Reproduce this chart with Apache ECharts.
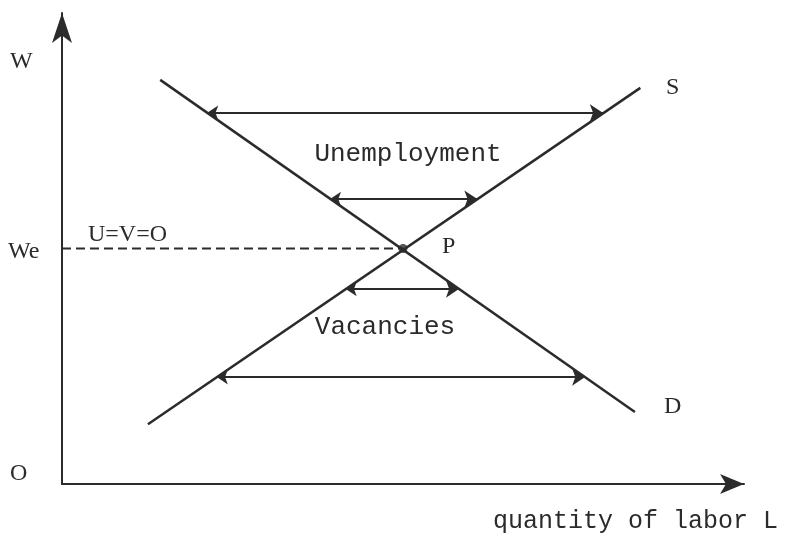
<!DOCTYPE html>
<html>
<head>
    <meta charset="utf-8">
    <title>Labor market</title>
    <script src="https://cdn.jsdelivr.net/npm/echarts@6/dist/echarts.min.js"></script>
</head>
<body style="margin:0;background:#fff">

<div id="main" style="width:789px;height:533px"></div>

<script type="text/javascript">
    // curves, in (L, W) units, axes run 0..100
    var demand = [[14.4, 85.8], [84.0, 15.3]];
    var supply = [[12.6, 12.7], [84.8, 84.1]];
    var equilibrium = [[50, 50]];
    var weLine = [[0, 50], [50, 50]];

    // double arrows between the curves
    var gapArrows = [
        [[21.3, 78.8], [79.3, 78.8]],
        [[39.3, 60.5], [60.9, 60.5]],
        [[41.6, 41.4], [58.2, 41.4]],
        [[22.7, 22.7], [76.7, 22.7]]
    ];

    var ink = '#2b2b2b';
    var mono = '"Liberation Mono", "DejaVu Sans Mono", monospace';
    var serif = '"Liberation Serif", "DejaVu Serif", serif';

    var myChart = echarts.init(document.getElementById('main'));

    function txt(x, y, s, font, size, align) {
        return {
            type: 'text', x: x, y: y,
            style: {text: s, font: size + 'px ' + font, fill: ink, align: align || 'left', verticalAlign: 'middle'}
        };
    }

    myChart.setOption({
        animation: false,
        grid: {left: 62, right: 45, top: 13, bottom: 49},
        xAxis: {
            type: 'value', min: 0, max: 100,
            axisLine: {show: true, symbol: ['none', 'arrow'], symbolSize: [15, 24], lineStyle: {color: ink, width: 2}},
            axisTick: {show: false}, axisLabel: {show: false}, splitLine: {show: false}
        },
        yAxis: {
            type: 'value', min: 0, max: 100,
            axisLine: {show: true, symbol: ['none', 'arrow'], symbolSize: [15, 30], lineStyle: {color: ink, width: 2}},
            axisTick: {show: false}, axisLabel: {show: false}, splitLine: {show: false}
        },
        series: [
            {type: 'line', data: demand, symbol: 'none', lineStyle: {color: ink, width: 2.5}},
            {type: 'line', data: supply, symbol: 'none', lineStyle: {color: ink, width: 2.5}},
            {type: 'line', data: weLine, symbol: 'none', lineStyle: {color: ink, width: 2, type: [9, 5]}},
            {
                type: 'lines', coordinateSystem: 'cartesian2d',
                data: gapArrows.map(function (a) { return {coords: a}; }),
                symbol: ['arrow', 'arrow'], symbolSize: [11, 13],
                lineStyle: {color: ink, width: 1.8, opacity: 1}
            },
            {type: 'scatter', data: equilibrium, symbolSize: 9, itemStyle: {color: ink}}
        ],
        graphic: [
            txt(10, 62, 'W', serif, 24),
            txt(8, 252, 'We', serif, 24),
            txt(10, 474, 'O', serif, 24),
            txt(88, 235, 'U=V=O', serif, 24),
            txt(442, 247, 'P', serif, 24),
            txt(666, 88, 'S', serif, 24),
            txt(664, 407, 'D', serif, 24),
            txt(408, 154, 'Unemployment', mono, 26, 'center'),
            txt(385, 327, 'Vacancies', mono, 26, 'center'),
            txt(493, 521, 'quantity of labor L', mono, 25)
        ]
    });
</script>
</body>
</html>
